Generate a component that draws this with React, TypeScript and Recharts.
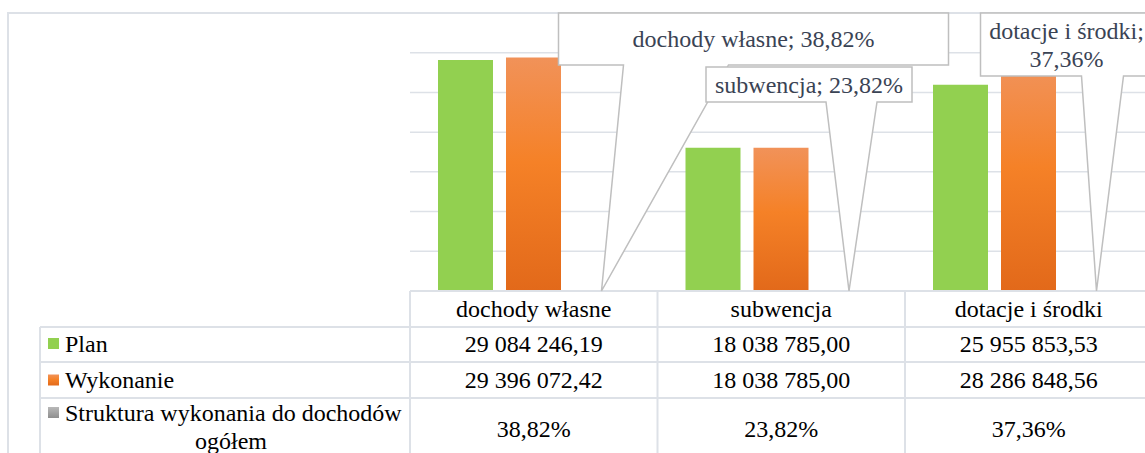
import React from "react";
import { BarChart, Bar, XAxis, YAxis, CartesianGrid, LabelList } from "recharts";

// categories and series
const categories = ["dochody własne", "subwencja", "dotacje i środki"];
const planValues = [29084246.19, 18038785.0, 25955853.53];
const wykonanieValues = [29396072.42, 18038785.0, 28286848.56];
const strukturaValues = [38.82, 23.82, 37.36]; // percent of total income
const yTicks = [0, 5000000, 10000000, 15000000, 20000000, 25000000, 30000000, 35000000];

const seriesNames = {
  plan: "Plan",
  wykonanie: "Wykonanie",
  struktura: ["Struktura wykonania do dochodów", "ogółem"],
};

const data = categories.map((name, i) => ({
  name,
  plan: planValues[i],
  wykonanie: wykonanieValues[i],
  struktura: strukturaValues[i],
}));

const FONT = "'Liberation Serif', 'Times New Roman', serif";
const GRID = "#dde1e7";
const CALLOUT_STROKE = "#bfbfbf";
const CALLOUT_TEXT = "#3a4354";

const fmtPL = (v: number) => {
  const [int, dec] = v.toFixed(2).split(".");
  return int.replace(/\B(?=(\d{3})+(?!\d))/g, " ") + "," + dec;
};
const fmtPct = (v: number) => v.toFixed(2).replace(".", ",") + "%";

// callout boxes, offsets relative to the tip (where the Struktura bar sits)
const calloutLayout = [
  { left: -43, right: 347, top: -278, bottom: -226, wedgeL: 22, wedgeR: 127, wrap: false },
  { left: -143, right: 63, top: -224, bottom: -189, wedgeL: -23, wedgeR: 28, wrap: false },
  { left: -116, right: 56, top: -278, bottom: -215, wedgeL: -15, wedgeR: 27, wrap: true },
];

const Callout = (props: any) => {
  const vb = props.viewBox ?? props;
  const index = props.index ?? 0;
  const tipX = vb.x + vb.width / 2;
  const tipY = vb.y + vb.height;
  const l = calloutLayout[index];
  if (!l) return null;
  const L = tipX + l.left;
  const R = tipX + l.right;
  const T = tipY + l.top;
  const B = tipY + l.bottom;
  const path = `M${L},${T} H${R} V${B} H${tipX + l.wedgeR} L${tipX},${tipY} L${tipX + l.wedgeL},${B} H${L} Z`;
  const cx = (L + R) / 2;
  const cy = (T + B) / 2;
  const cat = categories[index];
  const pct = fmtPct(strukturaValues[index]);
  const lines = l.wrap ? [`${cat};`, pct] : [`${cat}; ${pct}`];
  return (
    <g>
      <path d={path} fill="#ffffff" stroke={CALLOUT_STROKE} strokeWidth={1.5} />
      {lines.map((t, k) => (
        <text
          key={k}
          x={cx}
          y={cy + 8 + (k - (lines.length - 1) / 2) * 28}
          textAnchor="middle"
          fontFamily={FONT}
          fontSize={24}
          fill={CALLOUT_TEXT}
        >
          {t}
        </text>
      ))}
    </g>
  );
};

// row lines of the data table, relative to the axis line
const rowLines = [0, 36, 71, 107, 169];

// one column of the data table, drawn at each x tick
const TableColumn = (props: any) => {
  const { x, y, payload } = props;
  const i = payload?.index ?? props.index ?? 0;
  const colW = payload?.offset > 0 ? payload.offset * 2 : 247.5;
  const left = x - colW / 2;
  const right = x + colW / 2;
  const txt = (t: string, ty: number, key: string) => (
    <text key={key} x={x} y={y + ty} textAnchor="middle" fontFamily={FONT} fontSize={24} fill="#000">
      {t}
    </text>
  );
  return (
    <g>
      {rowLines.slice(1).map((r) => (
        <line key={r} x1={left} x2={right} y1={y + r} y2={y + r} stroke={GRID} strokeWidth={2} />
      ))}
      <line x1={left} x2={left} y1={y} y2={y + rowLines[rowLines.length - 1]} stroke={GRID} strokeWidth={2} />
      {i === categories.length - 1 && (
        <line x1={right} x2={right} y1={y} y2={y + rowLines[rowLines.length - 1]} stroke={GRID} strokeWidth={2} />
      )}
      {txt(categories[i], 26, "h")}
      {txt(fmtPL(planValues[i]), 61, "p")}
      {txt(fmtPL(wykonanieValues[i]), 97, "w")}
      {txt(fmtPct(strukturaValues[i]), 146, "s")}
      {i === 0 && (
        <g>
          {rowLines.slice(1).map((r) => (
            <line key={r} x1={left - 370} x2={left} y1={y + r} y2={y + r} stroke={GRID} strokeWidth={2} />
          ))}
          <line x1={left - 370} x2={left - 370} y1={y + 36} y2={y + 169} stroke={GRID} strokeWidth={2} />
          <rect x={left - 362} y={y + 47} width={11} height={11} fill="#92d050" />
          <text x={left - 345} y={y + 61} fontFamily={FONT} fontSize={24} fill="#000">{seriesNames.plan}</text>
          <rect x={left - 362} y={y + 83.5} width={11} height={11} fill="url(#gradOrange)" />
          <text x={left - 345} y={y + 97} fontFamily={FONT} fontSize={24} fill="#000">{seriesNames.wykonanie}</text>
          <rect x={left - 362} y={y + 116} width={11} height={11} fill="url(#gradGray)" />
          <text x={left - 345} y={y + 130} fontFamily={FONT} fontSize={24} fill="#000">{seriesNames.struktura[0]}</text>
          <text x={left - 179} y={y + 157.5} textAnchor="middle" fontFamily={FONT} fontSize={24} fill="#000">{seriesNames.struktura[1]}</text>
        </g>
      )}
    </g>
  );
};

export default function App() {
  return (
    <div style={{ position: "absolute", left: 0, top: 0, width: 1145, height: 453, overflow: "hidden", background: "#fff" }}>
      <div
        style={{
          position: "absolute",
          left: 7,
          top: 12,
          width: 1300,
          height: 600,
          border: `2px solid ${GRID}`,
          boxSizing: "border-box",
        }}
      />
      <div style={{ position: "absolute", left: 0, top: 0 }}>
        <BarChart
          width={1160}
          height={500}
          data={data}
          margin={{ top: 13, right: 7.5, left: 410, bottom: 9 }}
          barCategoryGap={28}
          barGap={13}
          style={{ fontFamily: FONT }}
        >
          <defs>
            <linearGradient id="gradOrange" x1="0" y1="0" x2="0" y2="1">
              <stop offset="0%" stopColor="#f19259" />
              <stop offset="45%" stopColor="#f58127" />
              <stop offset="100%" stopColor="#e2691a" />
            </linearGradient>
            <linearGradient id="gradGray" x1="0" y1="0" x2="0" y2="1">
              <stop offset="0%" stopColor="#b8b8b8" />
              <stop offset="100%" stopColor="#8e8e8e" />
            </linearGradient>
          </defs>
          <CartesianGrid vertical={false} stroke={GRID} strokeWidth={1.5} />
          <YAxis hide domain={[0, 35000000]} ticks={yTicks} />
          <XAxis
            dataKey="name"
            height={200}
            interval={0}
            tickLine={false}
            tickSize={0}
            tickMargin={0}
            axisLine={{ stroke: GRID, strokeWidth: 2 }}
            tick={<TableColumn />}
          />
          <Bar dataKey="plan" name="Plan" fill="#92d050" isAnimationActive={false} />
          <Bar dataKey="wykonanie" name="Wykonanie" fill="url(#gradOrange)" isAnimationActive={false} />
          <Bar dataKey="struktura" name="Struktura" fill="url(#gradGray)" isAnimationActive={false}>
            <LabelList dataKey="struktura" content={<Callout />} />
          </Bar>
        </BarChart>
      </div>
    </div>
  );
}
